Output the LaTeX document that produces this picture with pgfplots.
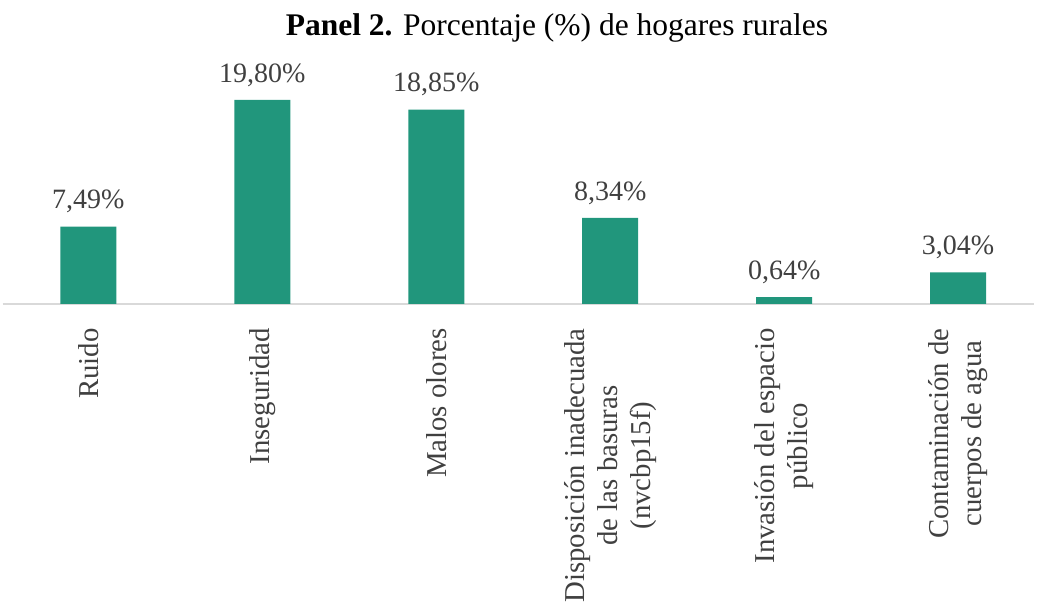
\documentclass[border=0pt]{standalone}
\usepackage{pgfplots}
\pgfplotsset{compat=1.18}
\usepackage{fontspec}
\setmainfont{Liberation Serif}
\definecolor{barc}{HTML}{21967C}
\definecolor{txt}{HTML}{404040}
\definecolor{axc}{HTML}{D9D9D9}
\begin{document}%
\begin{tikzpicture}[x=1pt,y=1pt]
\useasboundingbox (0,0) rectangle (1039,603);
\node[anchor=center,text=black,font=\fontsize{31.5}{36}\selectfont] at (557,575) {\textbf{Panel 2.} Porcentaje (\%) de hogares rurales};
\begin{axis}[
  at={(15,290.5)}, anchor=south west,
  scale only axis, width=1031pt, height=257.5pt,
  xmin=-0.493, xmax=5.434, ymin=0, ymax=25,
  axis x line=bottom, axis y line=none,
  axis line style={-, draw=axc, line width=1.5pt},
  xtick={0,1,2,3,4,5}, major tick length=0pt,
  xticklabels={Ruido, Inseguridad, Malos olores, {Disposición inadecuada\\de las basuras\\(nvcbp15f)}, {Invasión del espacio\\público}, {Contaminación de\\cuerpos de agua}},
  xticklabel style={rotate=90, anchor=east, align=center, text=txt, font=\fontsize{28.8}{33}\selectfont},
  xticklabel shift=21pt,
  ytick=\empty,
  clip=false,
  point meta=explicit symbolic,
  nodes near coords,
  every node near coord/.append style={text=txt, font=\fontsize{28}{34}\selectfont, yshift=10pt},
]
\addplot[ybar, bar width=56pt, fill=barc, draw=none] coordinates {
  (0,7.49) [7,49\%]
  (1,19.80) [19,80\%]
  (2,18.85) [18,85\%]
  (3,8.34) [8,34\%]
  (4,0.64) [0,64\%]
  (5,3.04) [3,04\%]
};
\end{axis}
\end{tikzpicture}%
\end{document}
